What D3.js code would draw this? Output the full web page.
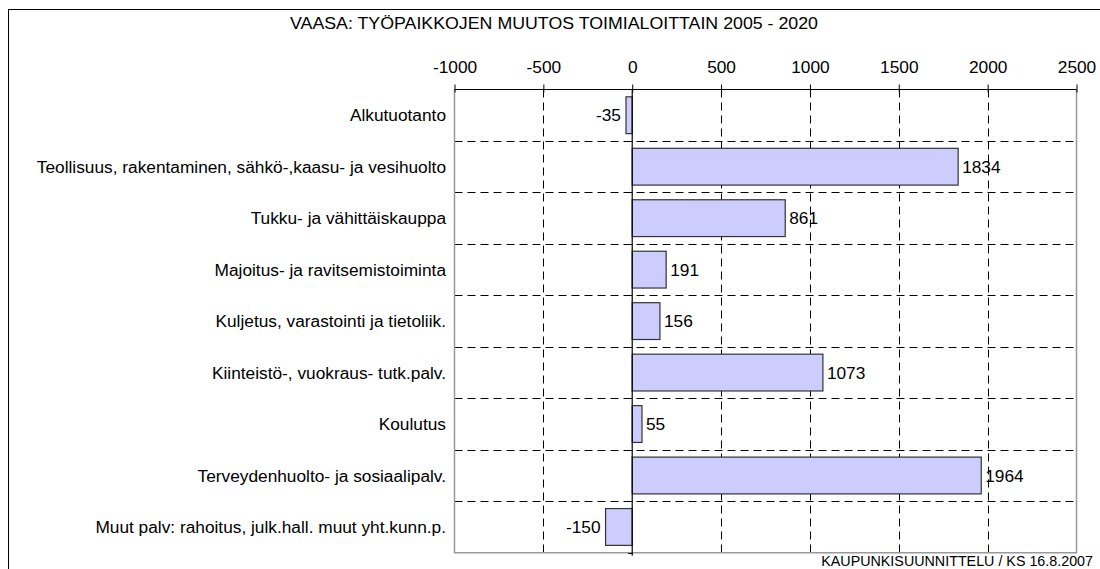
<!DOCTYPE html>
<html>
<head>
<meta charset="utf-8">
<script src="https://cdn.jsdelivr.net/npm/d3@7"></script>
<style>
  html, body { margin: 0; padding: 0; background: #fff; }
  svg { display: block; font-family: "Liberation Sans", Arial, sans-serif; }
</style>
</head>
<body>
<svg id="chart" width="1100" height="569"></svg>
<script>
const titleText = "VAASA: TYÖPAIKKOJEN MUUTOS TOIMIALOITTAIN 2005 - 2020";
const footerText = "KAUPUNKISUUNNITTELU / KS 16.8.2007";
const categories = [
  "Alkutuotanto",
  "Teollisuus, rakentaminen, sähkö-,kaasu- ja vesihuolto",
  "Tukku- ja vähittäiskauppa",
  "Majoitus- ja ravitsemistoiminta",
  "Kuljetus, varastointi ja tietoliik.",
  "Kiinteistö-, vuokraus- tutk.palv.",
  "Koulutus",
  "Terveydenhuolto- ja sosiaalipalv.",
  "Muut palv: rahoitus, julk.hall. muut yht.kunn.p."
];
const values = [-35, 1834, 861, 191, 156, 1073, 55, 1964, -150];
const tickValues = [-1000, -500, 0, 500, 1000, 1500, 2000, 2500];

const svg = d3.select("#chart");
const pLeft = 454.5, pRight = 1076.5, pTop = 89.5, pBottom = 552.7;
const FS = 17.3;

// outer frame
svg.append("rect").attr("x", 8.5).attr("y", 9.5).attr("width", 1100).attr("height", 600)
  .attr("fill", "none").attr("stroke", "#000").attr("stroke-width", 1);

const x = d3.scaleLinear().domain([-1000, 2500]).range([pLeft, pRight]);
const y = d3.scaleBand().domain(categories).range([pTop, pBottom]).paddingInner(0.285).paddingOuter(0.1425);
const band = (pBottom - pTop) / categories.length;

// title
svg.append("text").attr("x", 554).attr("y", 29).attr("text-anchor", "middle")
  .attr("font-size", 17).attr("fill", "#000").attr("textLength", 528).attr("lengthAdjust", "spacingAndGlyphs").text(titleText);

// vertical dashed gridlines
svg.append("g").selectAll("line").data(tickValues.filter(d => d !== 0 && d !== -1000 && d !== 2500)).join("line")
  .attr("x1", d => Math.round(x(d)) + 0.5).attr("x2", d => Math.round(x(d)) + 0.5)
  .attr("y1", pTop).attr("y2", pBottom)
  .attr("stroke", "#000").attr("stroke-dasharray", "8,5");

// horizontal dashed gridlines at category boundaries
const bounds = d3.range(1, categories.length).map(i => pTop + i * band);
svg.append("g").selectAll("line").data(bounds).join("line")
  .attr("x1", pLeft).attr("x2", pRight)
  .attr("y1", d => Math.round(d) + 0.5).attr("y2", d => Math.round(d) + 0.5)
  .attr("stroke", "#000").attr("stroke-dasharray", "8,5");

// plot border (gray) left, right, bottom
svg.append("path")
  .attr("d", `M${pLeft},${pTop}V${pBottom}H${pRight}V${pTop}`)
  .attr("fill", "none").attr("stroke", "#999").attr("stroke-width", 1.5);

// bars
svg.append("g").selectAll("rect").data(values).join("rect")
  .attr("x", d => x(Math.min(0, d)))
  .attr("y", (d, i) => y(categories[i]))
  .attr("width", d => Math.abs(x(d) - x(0)))
  .attr("height", y.bandwidth())
  .attr("fill", "#CCCCFF").attr("stroke", "#333").attr("stroke-width", 1.2);

// zero axis
svg.append("line").attr("x1", x(0)).attr("x2", x(0)).attr("y1", pTop).attr("y2", pBottom + 3)
  .attr("stroke", "#000").attr("stroke-width", 1.2);
svg.append("g").selectAll("line").data(bounds.concat([pBottom])).join("line")
  .attr("x1", x(0) - 4).attr("x2", x(0))
  .attr("y1", d => Math.round(d) + 0.5).attr("y2", d => Math.round(d) + 0.5)
  .attr("stroke", "#000");

// top axis
const axis = d3.axisTop(x).tickValues(tickValues).tickSize(5).tickPadding(12).tickFormat(d => String(d));
const ag = svg.append("g").attr("transform", `translate(0,${pTop})`).call(axis);
ag.select(".domain").attr("stroke", "#000").attr("d", `M${pLeft},0H${pRight}`);
ag.selectAll(".tick line").attr("y2", -5).attr("y1", 3).attr("stroke", "#000");
ag.selectAll(".tick text").attr("font-size", FS).attr("fill", "#000")
  .attr("font-family", "Liberation Sans, Arial, sans-serif");

// category labels
svg.append("g").selectAll("text").data(categories).join("text")
  .attr("x", 446).attr("y", d => y(d) + y.bandwidth() / 2)
  .attr("dy", "0.35em").attr("text-anchor", "end")
  .attr("font-size", FS).attr("fill", "#000").text(d => d);

// value labels
svg.append("g").selectAll("text").data(values).join("text")
  .attr("x", d => d < 0 ? x(d) - 5 : x(d) + 4)
  .attr("y", (d, i) => y(categories[i]) + y.bandwidth() / 2)
  .attr("dy", "0.35em").attr("text-anchor", d => d < 0 ? "end" : "start")
  .attr("font-size", FS).attr("fill", "#000").text(d => d);

// footer
svg.append("text").attr("x", 1093).attr("y", 566).attr("text-anchor", "end")
  .attr("font-size", 14.3).attr("fill", "#000").text(footerText);
</script>
</body>
</html>
